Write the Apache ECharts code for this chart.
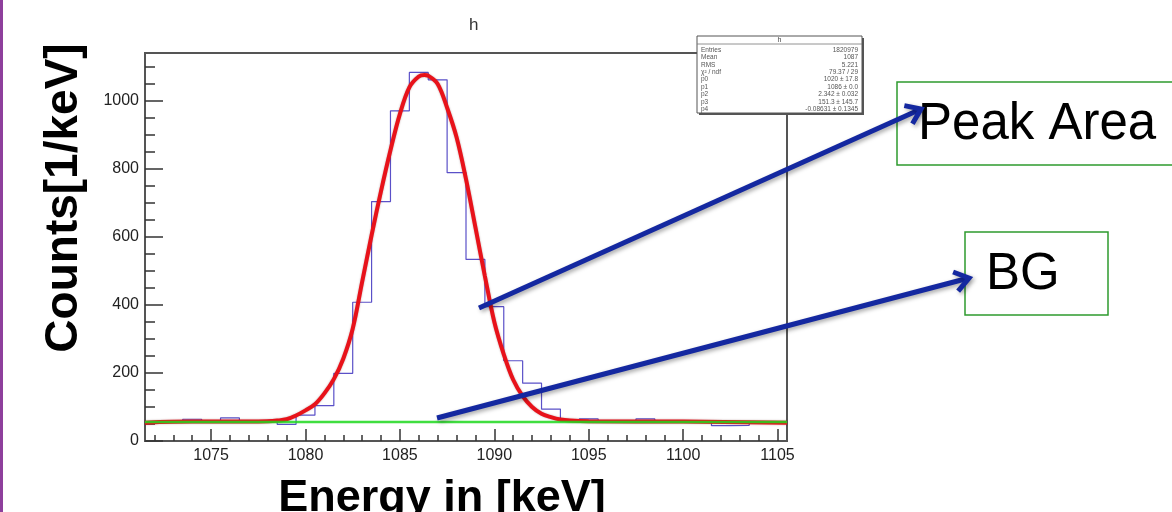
<!DOCTYPE html>
<html>
<head>
<meta charset="utf-8">
<title>h</title>
<script src="https://cdn.jsdelivr.net/npm/echarts@6/dist/echarts.min.js"></script>
<style>
  html, body { margin: 0; padding: 0; background: #fff; }
  #chart { width: 1172px; height: 512px; }
</style>
</head>
<body>
<div id="chart"></div>
<script>
// Histogram "h" with Gaussian + linear background fit

// histogram bins (1 keV wide, centred on integers)
const binCenters = [1072, 1073, 1074, 1075, 1076, 1077, 1078, 1079, 1080, 1081,
                    1082, 1083, 1084, 1085, 1086, 1087, 1088, 1089, 1090, 1091,
                    1092, 1093, 1094, 1095, 1096, 1097, 1098, 1099, 1100, 1101,
                    1102, 1103, 1104, 1105];
const binCounts = [57, 57, 64, 57, 68, 58, 63, 49, 76, 104,
                   199, 408, 704, 971, 1084, 1062, 789, 534, 395, 236,
                   170, 94, 59, 65, 57, 57, 65, 56, 56, 56,
                   45, 46, 56, 56];

// fit curve
const fitX = [1071.5, 1074, 1077, 1078, 1078.5, 1079, 1079.5, 1080, 1080.5, 1081,
              1081.5, 1082, 1082.5, 1083, 1083.5, 1084, 1084.5, 1085, 1085.5, 1086,
              1086.3, 1086.5, 1087, 1087.5, 1088, 1088.5, 1089, 1089.5, 1090, 1090.5,
              1091, 1091.5, 1092, 1092.5, 1093, 1093.5, 1094, 1095, 1100, 1105.5];
const fitY = [54, 57, 57, 58, 60, 64, 75, 90, 108, 140,
              182, 242, 330, 468, 605, 735, 855, 962, 1040, 1072,
              1076, 1074, 1050, 980, 893, 770, 628, 485, 350, 255,
              180, 132, 100, 80, 70, 63, 60, 58, 57, 54];

// background line
const bgX = [1071.5, 1105.5];
const bgY = [56, 56];

// axis ticks
const xMajorTicks = [1075, 1080, 1085, 1090, 1095, 1100, 1105];
const xMinorTicks = [1072, 1073, 1074, 1076, 1077, 1078, 1079, 1081, 1082, 1083, 1084,
                     1086, 1087, 1088, 1089, 1091, 1092, 1093, 1094, 1096, 1097, 1098,
                     1099, 1101, 1102, 1103, 1104];
const yMajorTicks = [0, 200, 400, 600, 800, 1000];
const yMinorTicks = [50, 100, 150, 250, 300, 350, 450, 500, 550, 650, 700, 750,
                     850, 900, 950, 1050, 1100];

// stats box
const statNames = ['Entries', 'Mean', 'RMS', 'χ² / ndf', 'p0', 'p1', 'p2', 'p3', 'p4'];
const statValues = ['1820979', '1087', '5.221', '79.37 / 29', '1020 ± 17.8',
                    '1086 ± 0.0', '2.342 ± 0.032', '151.3 ± 145.7', '-0.08631 ± 0.1345'];

const FONT = '"Liberation Sans", Arial, Helvetica, sans-serif';
const ARROW_COLOR = '#1428a0';

// histogram outline: one point per left edge plus the last right edge
const histData = binCenters.map((c, i) => [c - 0.5, binCounts[i]]);
histData.push([binCenters[binCenters.length - 1] + 0.5, binCounts[binCounts.length - 1]]);

const fitData = fitX.map((x, i) => [x, fitY[i]]);
const bgData = bgX.map((x, i) => [x, bgY[i]]);

// arrow = shaft + open V head
function arrow(x1, y1, x2, y2) {
    const a = Math.atan2(y2 - y1, x2 - x1);
    const L = 17, s = 0.62;
    const head = [
        [x2 - L * Math.cos(a - s), y2 - L * Math.sin(a - s)],
        [x2, y2],
        [x2 - L * Math.cos(a + s), y2 - L * Math.sin(a + s)]
    ];
    const shadow = {
        shadowBlur: 4, shadowColor: 'rgba(0,0,0,0.35)',
        shadowOffsetX: 2, shadowOffsetY: 2
    };
    return [
        {
            type: 'line', z: 110,
            shape: { x1: x1, y1: y1, x2: x2 - 3 * Math.cos(a), y2: y2 - 3 * Math.sin(a) },
            style: Object.assign({ stroke: ARROW_COLOR, lineWidth: 5 }, shadow)
        },
        {
            type: 'polyline', z: 110,
            shape: { points: head },
            style: Object.assign({ stroke: ARROW_COLOR, lineWidth: 5, fill: null, lineJoin: 'miter' }, shadow)
        }
    ];
}

// stats box elements
function statsBox() {
    const x = 697, y = 36, w = 165, h = 77;
    const els = [
        { type: 'rect', z: 100, shape: { x: x + 2, y: y + 2, width: w, height: h }, style: { fill: '#555' } },
        { type: 'rect', z: 101, shape: { x: x, y: y, width: w, height: h }, style: { fill: '#fff', stroke: '#555', lineWidth: 1 } },
        { type: 'line', z: 102, shape: { x1: x, y1: y + 8, x2: x + w, y2: y + 8 }, style: { stroke: '#777', lineWidth: 0.8 } },
        { type: 'text', z: 102, style: { x: x + w / 2, y: y + 4, text: 'h', font: '7px ' + FONT, fill: '#444', align: 'center', verticalAlign: 'middle' } }
    ];
    statNames.forEach((name, i) => {
        const ry = y + 14 + i * 7.4;
        els.push({ type: 'text', z: 102, style: { x: x + 4, y: ry, text: name, font: '6.5px ' + FONT, fill: '#555', align: 'left', verticalAlign: 'middle' } });
        els.push({ type: 'text', z: 102, style: { x: x + w - 4, y: ry, text: statValues[i], font: '6.5px ' + FONT, fill: '#555', align: 'right', verticalAlign: 'middle' } });
    });
    return els;
}

const chart = echarts.init(document.getElementById('chart'), null, { renderer: 'canvas' });

const tickStyle = { color: '#333', width: 1.5 };
const plainNumber = v => String(v);

const option = {
    backgroundColor: '#fff',
    animation: false,
    title: {
        text: 'h',
        left: 464,
        top: 12,
        textStyle: { fontFamily: FONT, fontSize: 17, fontWeight: 'normal', color: '#333' }
    },
    grid: {
        left: 145, top: 53, right: 385, bottom: 71,
        show: true, borderColor: '#555', borderWidth: 2, backgroundColor: 'transparent'
    },
    xAxis: [
        {
            type: 'value', min: 1071.5, max: 1105.5, position: 'bottom',
            axisLine: { show: false },
            axisTick: { show: true, inside: true, length: 12, customValues: xMajorTicks, lineStyle: tickStyle },
            axisLabel: { customValues: xMajorTicks, formatter: plainNumber, margin: 7, fontFamily: FONT, fontSize: 16, color: '#222' },
            splitLine: { show: false }
        },
        {
            type: 'value', min: 1071.5, max: 1105.5, position: 'bottom',
            axisLine: { show: false },
            axisTick: { show: true, inside: true, length: 6, customValues: xMinorTicks, lineStyle: tickStyle },
            axisLabel: { show: false },
            splitLine: { show: false }
        }
    ],
    yAxis: [
        {
            type: 'value', min: 0, max: 1141, position: 'left',
            axisLine: { show: false },
            axisTick: { show: true, inside: true, length: 18, customValues: yMajorTicks, lineStyle: tickStyle },
            axisLabel: { customValues: yMajorTicks, formatter: plainNumber, margin: 6, fontFamily: FONT, fontSize: 16, color: '#222' },
            splitLine: { show: false }
        },
        {
            type: 'value', min: 0, max: 1141, position: 'left',
            axisLine: { show: false },
            axisTick: { show: true, inside: true, length: 10, customValues: yMinorTicks, lineStyle: tickStyle },
            axisLabel: { show: false },
            splitLine: { show: false }
        }
    ],
    series: [
        {
            name: 'h', type: 'line', step: 'end', data: histData,
            xAxisIndex: 0, yAxisIndex: 0, symbol: 'none',
            lineStyle: { color: '#5a50c8', width: 1.2 }
        },
        {
            name: 'fit', type: 'line', data: fitData, smooth: 0.35,
            xAxisIndex: 0, yAxisIndex: 0, symbol: 'none',
            lineStyle: { color: '#e8121a', width: 4, shadowBlur: 2, shadowColor: 'rgba(80,0,0,0.35)' }
        },
        {
            name: 'BG', type: 'line', data: bgData,
            xAxisIndex: 0, yAxisIndex: 0, symbol: 'none',
            lineStyle: { color: '#1ed81e', width: 2.5, opacity: 0.85 }
        }
    ],
    graphic: [
        // purple slide edge
        { type: 'rect', z: 100, shape: { x: 0, y: 0, width: 3, height: 512 }, style: { fill: '#8e3f9c' } },
        // axis titles
        {
            type: 'text', z: 100, x: 64, y: 198, rotation: Math.PI / 2,
            style: { text: 'Counts[1/keV]', font: 'bold 46px ' + FONT, fill: '#000', align: 'center', verticalAlign: 'middle' }
        },
        {
            type: 'text', z: 100,
            style: { x: 442, y: 499, text: 'Energy in [keV]', font: 'bold 45px ' + FONT, fill: '#000', align: 'center', verticalAlign: 'middle' }
        },
        // annotation boxes
        { type: 'rect', z: 100, shape: { x: 897, y: 82, width: 300, height: 83 }, style: { fill: '#fff', stroke: '#2e9a2e', lineWidth: 1.5 } },
        { type: 'text', z: 101, style: { x: 918, y: 125, text: 'Peak Area', font: '51px ' + FONT, fill: '#000', align: 'left', verticalAlign: 'middle' } },
        { type: 'rect', z: 100, shape: { x: 965, y: 232, width: 143, height: 83 }, style: { fill: '#fff', stroke: '#2e9a2e', lineWidth: 1.5 } },
        { type: 'text', z: 101, style: { x: 986, y: 275, text: 'BG', font: '51px ' + FONT, fill: '#000', align: 'left', verticalAlign: 'middle' } }
    ]
        .concat(statsBox())
        .concat(arrow(479, 308, 921, 109))
        .concat(arrow(437, 418, 969, 278))
};

chart.setOption(option);
</script>
</body>
</html>
